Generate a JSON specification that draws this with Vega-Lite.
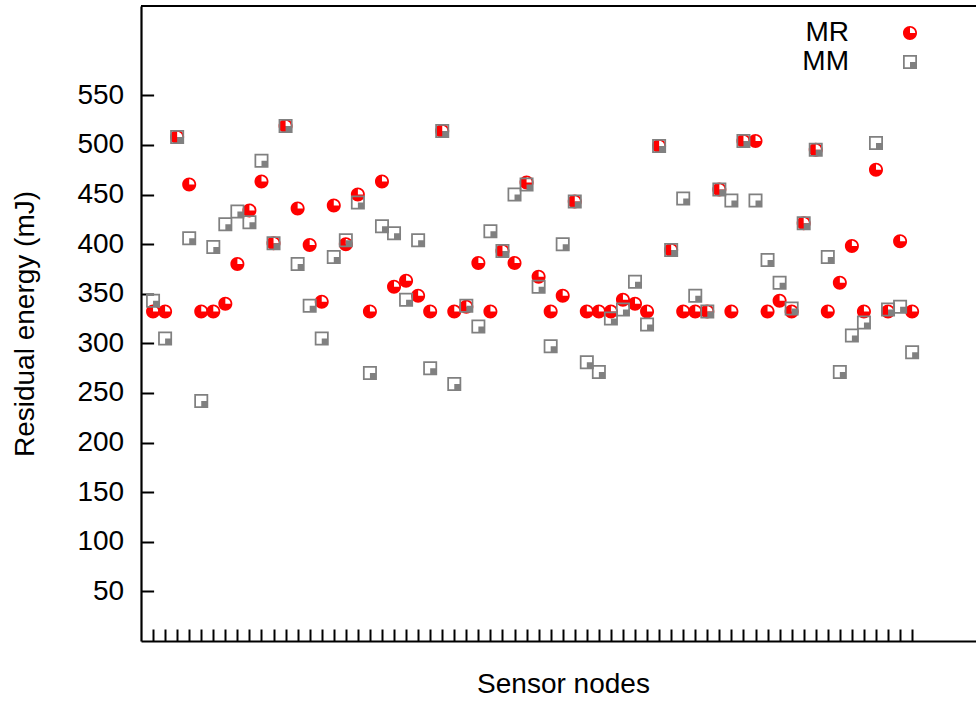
{
  "$schema": "https://vega.github.io/schema/vega-lite/v6.json",
  "width": 835,
  "height": 635,
  "autosize": {"type": "none"},
  "padding": {"left": 141, "top": 6, "right": 0, "bottom": 63},
  "background": "white",
  "config": {
    "view": {"stroke": null},
    "font": "Liberation Sans",
    "axis": {
      "grid": false,
      "domainColor": "black",
      "domainWidth": 2.2,
      "tickColor": "black",
      "tickWidth": 2,
      "labelColor": "black",
      "titleColor": "black",
      "labelFont": "Liberation Sans",
      "titleFont": "Liberation Sans",
      "labelFontSize": 28,
      "titleFontSize": 28,
      "titleFontWeight": "normal"
    },
    "legend": {
      "orient": "none",
      "legendX": 755,
      "legendY": 13,
      "padding": 0,
      "rowPadding": 1,
      "labelFont": "Liberation Sans",
      "labelFontSize": 28,
      "labelColor": "black",
      "labelAlign": "right",
      "labelOffset": -75,
      "labelLimit": 0,
      "symbolSize": 196,
      "symbolStrokeWidth": 0,
      "symbolOpacity": 1
    }
  },
  "data": {
    "values": [
      {"node": 1, "series": "MR", "energy": 332}, {"node": 2, "series": "MR", "energy": 332},
      {"node": 3, "series": "MR", "energy": 508}, {"node": 4, "series": "MR", "energy": 460},
      {"node": 5, "series": "MR", "energy": 332}, {"node": 6, "series": "MR", "energy": 332},
      {"node": 7, "series": "MR", "energy": 340}, {"node": 8, "series": "MR", "energy": 380},
      {"node": 9, "series": "MR", "energy": 434}, {"node": 10, "series": "MR", "energy": 463},
      {"node": 11, "series": "MR", "energy": 401}, {"node": 12, "series": "MR", "energy": 519},
      {"node": 13, "series": "MR", "energy": 436}, {"node": 14, "series": "MR", "energy": 399},
      {"node": 15, "series": "MR", "energy": 342}, {"node": 16, "series": "MR", "energy": 439},
      {"node": 17, "series": "MR", "energy": 400}, {"node": 18, "series": "MR", "energy": 450},
      {"node": 19, "series": "MR", "energy": 332}, {"node": 20, "series": "MR", "energy": 463},
      {"node": 21, "series": "MR", "energy": 357}, {"node": 22, "series": "MR", "energy": 363},
      {"node": 23, "series": "MR", "energy": 348}, {"node": 24, "series": "MR", "energy": 332},
      {"node": 25, "series": "MR", "energy": 514}, {"node": 26, "series": "MR", "energy": 332},
      {"node": 27, "series": "MR", "energy": 337}, {"node": 28, "series": "MR", "energy": 381},
      {"node": 29, "series": "MR", "energy": 332}, {"node": 30, "series": "MR", "energy": 393},
      {"node": 31, "series": "MR", "energy": 381}, {"node": 32, "series": "MR", "energy": 462},
      {"node": 33, "series": "MR", "energy": 367}, {"node": 34, "series": "MR", "energy": 332},
      {"node": 35, "series": "MR", "energy": 348}, {"node": 36, "series": "MR", "energy": 443},
      {"node": 37, "series": "MR", "energy": 332}, {"node": 38, "series": "MR", "energy": 332},
      {"node": 39, "series": "MR", "energy": 332}, {"node": 40, "series": "MR", "energy": 344},
      {"node": 41, "series": "MR", "energy": 340}, {"node": 42, "series": "MR", "energy": 332},
      {"node": 43, "series": "MR", "energy": 499}, {"node": 44, "series": "MR", "energy": 394},
      {"node": 45, "series": "MR", "energy": 332}, {"node": 46, "series": "MR", "energy": 332},
      {"node": 47, "series": "MR", "energy": 332}, {"node": 48, "series": "MR", "energy": 455},
      {"node": 49, "series": "MR", "energy": 332}, {"node": 50, "series": "MR", "energy": 504},
      {"node": 51, "series": "MR", "energy": 504}, {"node": 52, "series": "MR", "energy": 332},
      {"node": 53, "series": "MR", "energy": 343}, {"node": 54, "series": "MR", "energy": 332},
      {"node": 55, "series": "MR", "energy": 421}, {"node": 56, "series": "MR", "energy": 495},
      {"node": 57, "series": "MR", "energy": 332}, {"node": 58, "series": "MR", "energy": 361},
      {"node": 59, "series": "MR", "energy": 398}, {"node": 60, "series": "MR", "energy": 332},
      {"node": 61, "series": "MR", "energy": 475}, {"node": 62, "series": "MR", "energy": 332},
      {"node": 63, "series": "MR", "energy": 403}, {"node": 64, "series": "MR", "energy": 332},
      {"node": 1, "series": "MM", "energy": 343}, {"node": 2, "series": "MM", "energy": 305},
      {"node": 3, "series": "MM", "energy": 508}, {"node": 4, "series": "MM", "energy": 406},
      {"node": 5, "series": "MM", "energy": 242}, {"node": 6, "series": "MM", "energy": 397},
      {"node": 7, "series": "MM", "energy": 420}, {"node": 8, "series": "MM", "energy": 433},
      {"node": 9, "series": "MM", "energy": 422}, {"node": 10, "series": "MM", "energy": 484},
      {"node": 11, "series": "MM", "energy": 401}, {"node": 12, "series": "MM", "energy": 519},
      {"node": 13, "series": "MM", "energy": 380}, {"node": 14, "series": "MM", "energy": 338},
      {"node": 15, "series": "MM", "energy": 305}, {"node": 16, "series": "MM", "energy": 387},
      {"node": 17, "series": "MM", "energy": 404}, {"node": 18, "series": "MM", "energy": 442},
      {"node": 19, "series": "MM", "energy": 270}, {"node": 20, "series": "MM", "energy": 418},
      {"node": 21, "series": "MM", "energy": 411}, {"node": 22, "series": "MM", "energy": 344},
      {"node": 23, "series": "MM", "energy": 404}, {"node": 24, "series": "MM", "energy": 275},
      {"node": 25, "series": "MM", "energy": 514}, {"node": 26, "series": "MM", "energy": 259},
      {"node": 27, "series": "MM", "energy": 338}, {"node": 28, "series": "MM", "energy": 317},
      {"node": 29, "series": "MM", "energy": 413}, {"node": 30, "series": "MM", "energy": 393},
      {"node": 31, "series": "MM", "energy": 450}, {"node": 32, "series": "MM", "energy": 460},
      {"node": 33, "series": "MM", "energy": 357}, {"node": 34, "series": "MM", "energy": 297},
      {"node": 35, "series": "MM", "energy": 400}, {"node": 36, "series": "MM", "energy": 443},
      {"node": 37, "series": "MM", "energy": 281}, {"node": 38, "series": "MM", "energy": 271},
      {"node": 39, "series": "MM", "energy": 325}, {"node": 40, "series": "MM", "energy": 334},
      {"node": 41, "series": "MM", "energy": 362}, {"node": 42, "series": "MM", "energy": 319},
      {"node": 43, "series": "MM", "energy": 499}, {"node": 44, "series": "MM", "energy": 394},
      {"node": 45, "series": "MM", "energy": 446}, {"node": 46, "series": "MM", "energy": 348},
      {"node": 47, "series": "MM", "energy": 332}, {"node": 48, "series": "MM", "energy": 455},
      {"node": 49, "series": "MM", "energy": 444}, {"node": 50, "series": "MM", "energy": 504},
      {"node": 51, "series": "MM", "energy": 444}, {"node": 52, "series": "MM", "energy": 384},
      {"node": 53, "series": "MM", "energy": 361}, {"node": 54, "series": "MM", "energy": 335},
      {"node": 55, "series": "MM", "energy": 421}, {"node": 56, "series": "MM", "energy": 495},
      {"node": 57, "series": "MM", "energy": 387}, {"node": 58, "series": "MM", "energy": 271},
      {"node": 59, "series": "MM", "energy": 308}, {"node": 60, "series": "MM", "energy": 321},
      {"node": 61, "series": "MM", "energy": 502}, {"node": 62, "series": "MM", "energy": 334},
      {"node": 63, "series": "MM", "energy": 337}, {"node": 64, "series": "MM", "energy": 291}
    ]
  },
  "layer": [
    {
      "mark": {"type": "rule", "color": "black", "strokeWidth": 2.2},
      "encoding": {"y": {"datum": 640, "type": "quantitative"}}
    },
    {
      "mark": {"type": "point", "filled": true, "size": 196, "strokeWidth": 0, "opacity": 1},
      "encoding": {
        "x": {
          "field": "node",
          "type": "quantitative",
          "scale": {"domain": [0, 69.3], "nice": false, "zero": false},
          "axis": {
            "orient": "bottom",
            "values": [1,2,3,4,5,6,7,8,9,10,11,12,13,14,15,16,17,18,19,20,21,22,23,24,25,26,27,28,29,30,31,32,33,34,35,36,37,38,39,40,41,42,43,44,45,46,47,48,49,50,51,52,53,54,55,56,57,58,59,60,61,62,63,64],
            "tickSize": -12,
            "labels": false,
            "title": "Sensor nodes",
            "titleX": 422,
            "titleY": 51,
            "titleAlign": "center",
            "titleBaseline": "alphabetic"
          }
        },
        "y": {
          "field": "energy",
          "type": "quantitative",
          "scale": {"domain": [0, 640], "nice": false},
          "axis": {
            "values": [50,100,150,200,250,300,350,400,450,500,550],
            "tickSize": -12.6,
            "labelPadding": 30,
            "title": "Residual energy (mJ)",
            "titleX": -108,
            "titleY": 317.5,
            "titleAlign": "center",
            "titleBaseline": "alphabetic",
            "titleAngle": -90
          }
        },
        "fill": {
          "field": "series",
          "type": "nominal",
          "scale": {"domain": ["MR", "MM"], "range": ["#ff0000", "#808080"]},
          "legend": {"title": null}
        },
        "shape": {
          "field": "series",
          "type": "nominal",
          "scale": {
            "domain": ["MR", "MM"],
            "range": [
              "M1,0A1,1,0,0,1,0,1A1,1,0,0,1,-1,0A1,1,0,0,1,0,-1A1,1,0,0,1,1,0ZM0,0L0.75,0A0.75,0.75,0,0,0,0,-0.75Z",
              "M-1,-1H1V1H-1ZM-0.75,-0.75V0.75H0.75V-0.75ZM0,0H0.75V0.75H0Z"
            ]
          },
          "legend": {"title": null}
        }
      }
    }
  ]
}
